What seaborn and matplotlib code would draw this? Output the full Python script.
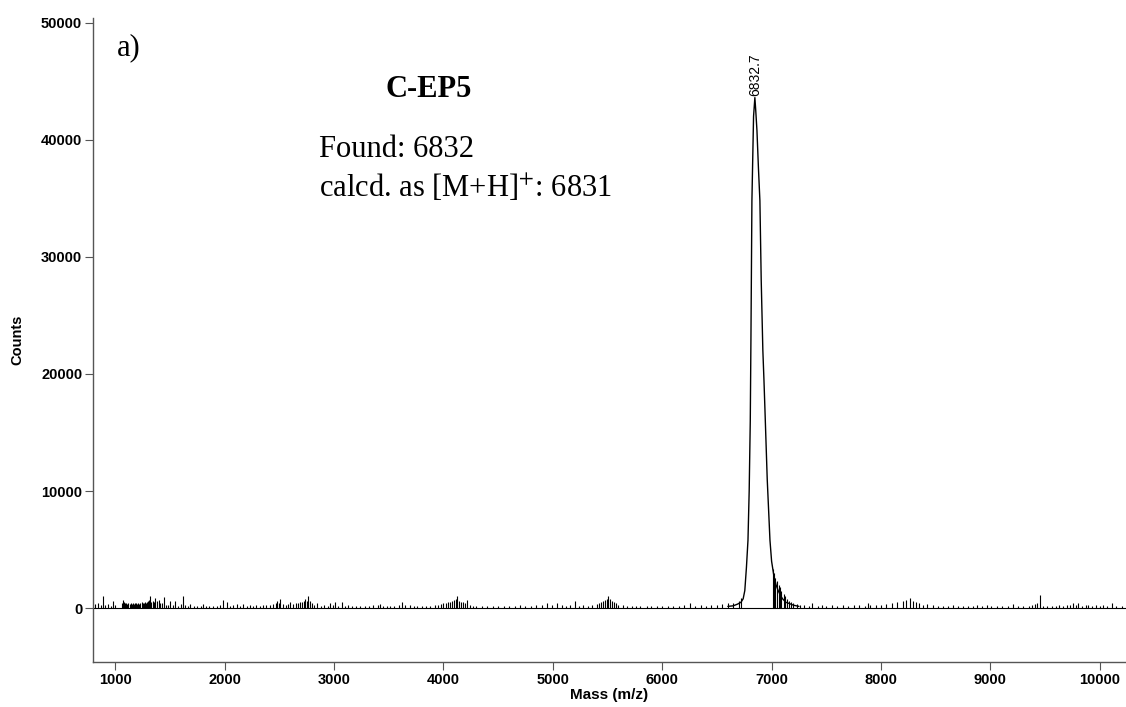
import numpy as np
import matplotlib
matplotlib.use("Agg")
import matplotlib.pyplot as plt
import seaborn as sns

# ---------------- data ----------------
peak_mass = [6600, 6650, 6690, 6720, 6740, 6755, 6770, 6784, 6795, 6805, 6811,
             6820, 6835, 6847, 6855, 6866, 6880, 6893, 6905, 6920, 6930, 6939,
             6960, 6985, 7000, 7020, 7040, 7060, 7080, 7100, 7130, 7160, 7200, 7250]
peak_counts = [150, 200, 350, 500, 800, 1500, 3500, 5800, 10000, 16000, 22900,
               34800, 42000, 43600, 42500, 40800, 37500, 34800, 28000, 22000, 19500, 17000,
               11000, 5800, 4000, 2800, 2000, 1500, 1100, 800, 500, 400, 250, 150]

spike_mass = [817, 845, 870, 890, 910, 936, 960, 982, 1000,
              1065, 1073, 1082, 1090, 1100, 1110, 1120, 1130, 1140, 1150, 1160, 1170, 1180, 1190,
              1200, 1210, 1220, 1230, 1240, 1250, 1260, 1270, 1280, 1290, 1300, 1310, 1320, 1330,
              1340, 1350, 1366, 1380, 1395, 1410, 1425, 1448, 1465, 1480, 1503, 1525, 1548, 1570,
              1600, 1621, 1640, 1660, 1685, 1720, 1750, 1780, 1804, 1830, 1860, 1890, 1930, 1960,
              1987, 2023, 2050, 2080, 2115, 2140, 2170, 2200, 2233, 2260, 2290, 2320, 2352, 2380,
              2410, 2440, 2465, 2480, 2495, 2508, 2530, 2560, 2580, 2600, 2620, 2650, 2670, 2690,
              2710, 2725, 2736, 2750, 2763, 2780, 2800, 2820, 2846, 2880, 2910, 2940, 2965, 2990,
              3010, 3040, 3074, 3100, 3130, 3160, 3200, 3240, 3280, 3320, 3360, 3400, 3421, 3450,
              3480, 3510, 3550, 3590, 3622, 3650, 3695, 3730, 3760, 3800, 3840, 3880, 3920, 3950,
              3980, 4000, 4020, 4040, 4060, 4080, 4100, 4115, 4125, 4140, 4160, 4180, 4200, 4216,
              4240, 4270, 4300, 4350, 4400, 4450, 4500, 4550, 4600, 4650, 4700, 4750, 4800, 4850,
              4900, 4947, 4990, 5038, 5080, 5120, 5160, 5203, 5240, 5280, 5320, 5360, 5400, 5420,
              5440, 5460, 5480, 5495, 5505, 5520, 5540, 5560, 5580, 5600, 5640, 5680, 5720, 5760,
              5800, 5861, 5900, 5950, 6000, 6050, 6100, 6150, 6200, 6254, 6300, 6350, 6400, 6450,
              6500, 6550, 6600, 6650, 6700, 6720,
              7010, 7025, 7035, 7050, 7065, 7075, 7090, 7110, 7125, 7140, 7160, 7180, 7200, 7230,
              7260, 7300, 7340,
              7365, 7420, 7460, 7500, 7550, 7600, 7650, 7700, 7750, 7800, 7850, 7880, 7900, 7950,
              8000, 8050, 8100, 8150, 8200, 8230, 8264, 8290, 8320, 8350, 8380, 8419, 8474, 8520,
              8570, 8610, 8657, 8700, 8750, 8800, 8840, 8876, 8920, 8967, 9010, 9060, 9110, 9160,
              9205, 9250, 9300, 9350, 9380, 9406, 9430, 9451, 9480, 9520, 9560, 9600, 9625, 9660,
              9700, 9730, 9753, 9780, 9799, 9840, 9870, 9890, 9930, 9970, 10000, 10027, 10070,
              10110, 10150, 10200]
spike_counts = [370, 430, 250, 1050, 300, 370, 200, 650, 250,
                400, 710, 500, 450, 400, 350, 450, 380, 420, 350, 400, 380, 450, 400,
                350, 420, 380, 450, 500, 420, 480, 550, 450, 500, 600, 700, 1000, 550,
                600, 500, 850, 600, 710, 450, 400, 940, 300, 250, 570, 250, 650, 200,
                350, 1000, 300, 200, 370, 150, 200, 150, 370, 150, 200, 150, 200, 250,
                710, 500, 200, 250, 370, 200, 370, 150, 300, 200, 250, 200, 300, 250,
                300, 350, 400, 650, 400, 800, 350, 300, 350, 500, 350, 400, 450, 500,
                550, 600, 770, 650, 1050, 600, 400, 300, 400, 200, 250, 200, 400, 250,
                500, 200, 550, 200, 250, 200, 150, 200, 150, 200, 250, 300, 350, 200,
                200, 150, 200, 300, 500, 250, 300, 200, 150, 200, 150, 200, 250, 300,
                350, 400, 450, 500, 550, 600, 700, 800, 1000, 650, 550, 500, 450, 700,
                300, 200, 150, 200, 150, 200, 150, 200, 150, 200, 250, 150, 200, 250,
                300, 400, 250, 400, 300, 200, 250, 650, 200, 250, 200, 250, 350, 450,
                500, 600, 700, 800, 1000, 750, 600, 500, 400, 300, 250, 200, 150, 200,
                150, 200, 150, 200, 150, 200, 150, 200, 250, 400, 200, 250, 200, 250,
                300, 350, 400, 450, 600, 900,
                3300, 3000, 2600, 2300, 2000, 1800, 1500, 1200, 1000, 800, 650, 550, 450, 350,
                300, 250, 200,
                430, 200, 250, 200, 250, 200, 300, 200, 250, 300, 200, 450, 300, 250,
                300, 350, 400, 500, 600, 700, 880, 600, 500, 400, 300, 350, 300, 200,
                150, 200, 300, 150, 200, 150, 200, 300, 150, 300, 150, 200, 150, 200,
                370, 150, 200, 150, 250, 370, 400, 1080, 200, 150, 200, 200, 250, 200,
                250, 300, 450, 300, 450, 200, 250, 250, 200, 250, 200, 300, 200,
                450, 200, 150]

peak_label = "6832.7"
x_ticks = [1000, 2000, 3000, 4000, 5000, 6000, 7000, 8000, 9000, 10000]
y_ticks = [0, 10000, 20000, 30000, 40000, 50000]

# ---------------- figure ----------------
sns.set_style("ticks")
plt.rcParams["font.family"] = ["Liberation Sans", "DejaVu Sans"]
plt.rcParams["mathtext.fontset"] = "stix"
plt.rcParams["text.color"] = "black"
plt.rcParams["axes.labelcolor"] = "black"
plt.rcParams["xtick.color"] = "black"
plt.rcParams["ytick.color"] = "black"

fig = plt.figure(figsize=(11.26, 7.07), dpi=100)
ax = fig.add_axes([93 / 1126, 1 - 662 / 707, 1 - 93 / 1126, (662 - 18) / 707])

ax.axhline(0, color="black", lw=0.8, zorder=1)
ax.vlines(spike_mass, 0, spike_counts, color="black", lw=0.8, zorder=2)
sns.lineplot(x=peak_mass, y=peak_counts, ax=ax, color="black", lw=1.0, zorder=3)

ax.set_xlim(796, 10240)
ax.set_ylim(-4600, 50400)
ax.set_xticks(x_ticks)
ax.set_yticks(y_ticks)
ax.tick_params(axis="both", direction="out", length=5.8, width=0.8, color="#555555",
               labelcolor="black", labelsize=10.5, pad=2)
for lab in ax.get_xticklabels() + ax.get_yticklabels():
    lab.set_fontweight("bold")

for s in ["top", "right"]:
    ax.spines[s].set_visible(False)
for s in ["left", "bottom"]:
    ax.spines[s].set_color("#555555")
    ax.spines[s].set_linewidth(1.0)

ax.set_xlabel("Mass (m/z)", fontsize=11, fontweight="bold", labelpad=1, color="black")
ax.set_ylabel("Counts", fontsize=10.5, fontweight="bold", labelpad=12, color="black")

# peak annotation
imax = int(np.argmax(peak_counts))
ax.annotate(peak_label, xy=(peak_mass[imax], peak_counts[imax]), xytext=(0, 1),
            textcoords="offset points", rotation=90, ha="center", va="bottom",
            fontsize=10, color="black")

serif = ["Liberation Serif", "DejaVu Serif"]
fig.text(117 / 1126, 1 - 55 / 707, "a)", family=serif, fontsize=22, va="baseline",
         color="black")
fig.text(429 / 1126, 1 - 97 / 707, "C-EP5", family=serif, fontsize=22,
         fontweight="bold", ha="center", va="baseline", color="black")
fig.text(319 / 1126, 1 - 157 / 707, "Found: 6832", family=serif, fontsize=22,
         va="baseline", color="black")
fig.text(319 / 1126, 1 - 197 / 707, r"calcd. as [M+H]$^{+}$: 6831", family=serif,
         fontsize=22, va="baseline", color="black")

fig.savefig("out.png", dpi=100)
